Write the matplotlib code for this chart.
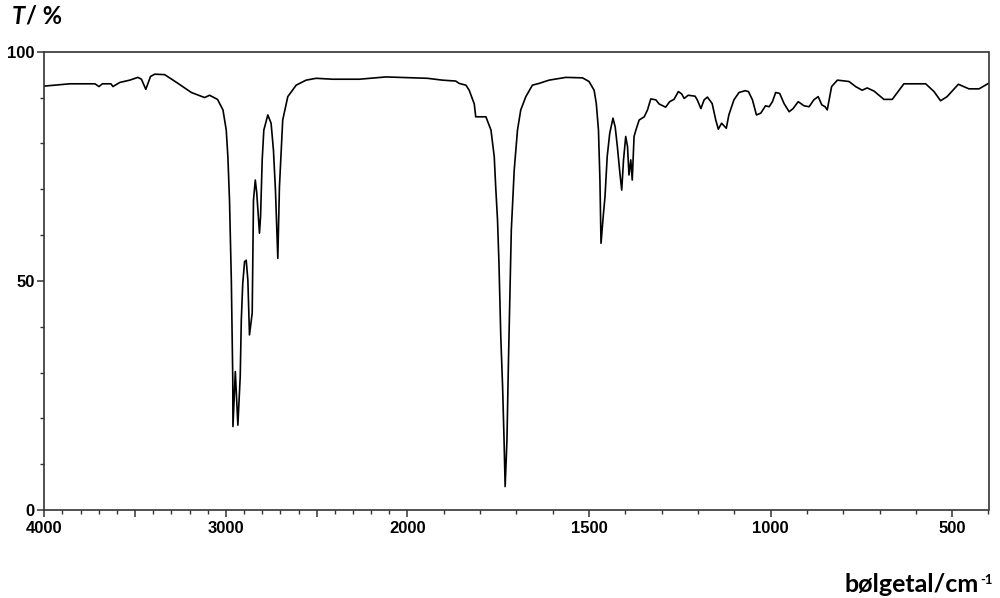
import numpy as np
import matplotlib
matplotlib.use("Agg")
import matplotlib.pyplot as plt
from matplotlib.ticker import FixedLocator, FuncFormatter

# =====================================================
# DATA
# =====================================================

wavenumber = [
    4000, 3859, 3721, 3699, 3680, 3633, 3622, 3584, 3529, 3485, 3465, 3441,
    3415, 3392, 3337, 3264, 3190, 3117, 3090, 3046, 3016, 2998, 2989, 2980,
    2970, 2962, 2961, 2948, 2934, 2921, 2915, 2907, 2897, 2888, 2879, 2870,
    2855, 2848, 2838, 2830, 2815, 2809, 2800, 2791, 2769, 2751, 2738, 2727,
    2714, 2705, 2696, 2687, 2659, 2613, 2558, 2503, 2412, 2265, 2119, 1945,
    1904, 1867, 1858, 1839, 1830, 1816, 1812, 1784, 1770, 1761, 1757, 1752,
    1748, 1743, 1738, 1734, 1731, 1726, 1722, 1718, 1714, 1706, 1697, 1688,
    1674, 1656, 1637, 1610, 1564, 1518, 1500, 1486, 1480, 1474, 1470, 1468,
    1467, 1461, 1456, 1450, 1443, 1434, 1428, 1422, 1415, 1410, 1405, 1399,
    1394, 1390, 1385, 1381, 1376, 1371, 1362, 1348, 1339, 1330, 1316, 1307,
    1289, 1278, 1266, 1254, 1245, 1238, 1227, 1208, 1202, 1192, 1183, 1174,
    1161, 1151, 1144, 1135, 1122, 1115, 1101, 1087, 1070, 1061, 1050, 1039,
    1027, 1014, 1004, 995, 986, 975, 963, 949, 938, 924, 908, 894,
    881, 869, 859, 850, 844, 837, 832, 816, 784, 766, 748, 734,
    715, 688, 665, 633, 573, 550, 532, 514, 483, 454, 426, 400,
]

transmittance = [
    92.5, 93.0, 93.0, 92.4, 93.0, 93.0, 92.4, 93.3, 93.8, 94.4, 94.0, 91.8,
    94.6, 95.1, 95.0, 93.1, 91.1, 90.0, 90.5, 89.6, 87.3, 82.9, 77.1, 67.6,
    50.2, 28.4, 18.2, 30.2, 18.5, 29.1, 41.5, 49.5, 54.2, 54.5, 50.2, 38.2,
    43.0, 67.6, 72.0, 69.2, 60.4, 64.0, 76.4, 82.9, 86.2, 84.4, 78.5, 69.8,
    54.9, 70.5, 77.8, 85.1, 90.2, 92.7, 93.8, 94.2, 94.0, 94.0, 94.5, 94.2,
    93.8, 93.6, 93.1, 92.7, 91.6, 88.6, 85.8, 85.8, 82.9, 77.1, 70.5, 63.3,
    53.8, 37.8, 26.9, 15.3, 5.1, 15.3, 32.0, 46.5, 61.1, 74.2, 82.9, 87.3,
    90.2, 92.7, 93.1, 93.8, 94.4, 94.3, 93.5, 91.6, 88.7, 82.9, 72.0, 63.3,
    58.2, 64.0, 68.4, 77.1, 82.2, 85.5, 83.6, 79.3, 73.5, 69.8, 76.4, 81.5,
    79.3, 73.1, 76.4, 72.0, 81.5, 82.9, 85.1, 85.8, 87.3, 89.7, 89.5, 88.6,
    87.9, 89.1, 89.6, 91.3, 90.8, 89.8, 90.5, 90.3, 89.5, 87.6, 89.5, 90.1,
    88.7, 85.1, 83.1, 84.4, 83.3, 86.2, 89.5, 91.1, 91.5, 91.3, 89.5, 86.2,
    86.6, 88.2, 88.0, 89.1, 91.1, 90.9, 88.7, 86.9, 87.6, 89.1, 88.2, 88.0,
    89.5, 90.2, 88.4, 88.0, 87.3, 90.2, 92.4, 93.8, 93.5, 92.4, 91.6, 92.1,
    91.4, 89.6, 89.6, 93.0, 93.0, 91.3, 89.3, 90.2, 92.9, 91.9, 91.9, 93.1,
]

x_major = [4000, 3500, 3000, 2500, 2000, 1500, 1000, 500]
x_labels = {4000: "4000", 3000: "3000", 2000: "2000", 1500: "1500",
            1000: "1000", 500: "500"}
y_major = [0, 50, 100]

# =====================================================
# AXIS SCALE: below 2000 cm-1 the axis is stretched 2x
# =====================================================

def forward(w):
    w = np.asarray(w, dtype=float)
    return np.where(w >= 2000, 2000 + (w - 2000) / 2.0, w)

def inverse(u):
    u = np.asarray(u, dtype=float)
    return np.where(u >= 2000, 2000 + (u - 2000) * 2.0, u)

# =====================================================
# PLOT
# =====================================================

plt.rcParams["font.family"] = ["Liberation Sans", "DejaVu Sans"]
plt.rcParams["font.weight"] = "bold"

fig = plt.figure(figsize=(10, 5.98), dpi=100)
ax = fig.add_axes([0.0443, 0.1472, 0.9442, 0.7663])

ax.plot(wavenumber, transmittance, color="black", linewidth=1.2)

ax.set_xscale("function", functions=(forward, inverse))
ax.set_xlim(4000, 400)
ax.set_ylim(0, 100)

ax.xaxis.set_major_locator(FixedLocator(x_major))
ax.xaxis.set_minor_locator(FixedLocator(np.arange(400, 4001, 100)))
ax.xaxis.set_major_formatter(FuncFormatter(lambda v, p: x_labels.get(int(round(v)), "")))
ax.yaxis.set_major_locator(FixedLocator(y_major))
ax.yaxis.set_minor_locator(FixedLocator(np.arange(0, 101, 10)))

for side in ["top", "bottom", "left", "right"]:
    ax.spines[side].set_linewidth(1.2)
    ax.spines[side].set_color("#333333")

ax.tick_params(which="major", length=5, width=1.1, color="#333333",
               direction="out", pad=3, labelsize=12)
ax.tick_params(which="minor", length=3, width=1.0, color="#333333",
               direction="out")
ax.tick_params(axis="y", which="major", pad=2)

# axis titles
fig.text(0.012, 1 - 23.5 / 598, "T", fontfamily="Lato", fontweight="bold",
         fontstyle="italic", fontsize=17, va="baseline", ha="left")
fig.text(0.0265, 1 - 23.5 / 598, "/ %", fontfamily="Lato", fontweight="bold",
         fontsize=17, va="baseline", ha="left")

fig.text(0.979, 1 - 591.5 / 598, "bølgetal/cm", fontfamily="Lato",
         fontweight="bold", fontsize=18, va="baseline", ha="right")
fig.text(0.980, 1 - 584 / 598, "-1", fontfamily="Lato",
         fontweight="bold", fontsize=9.5, va="baseline", ha="left")

fig.savefig("out.png", dpi=100)
